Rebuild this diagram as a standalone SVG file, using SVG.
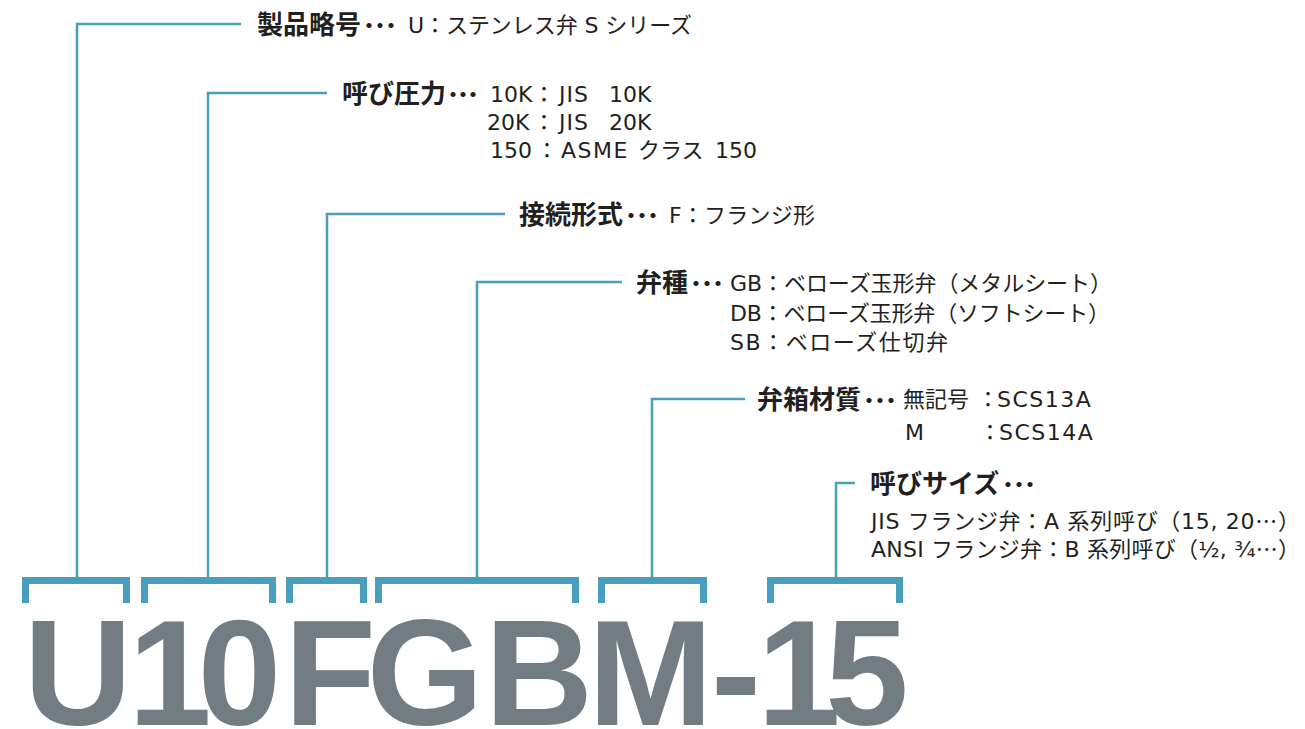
<svg xmlns="http://www.w3.org/2000/svg" width="1305" height="729" viewBox="0 0 1305 729">
<style>
.lbl{font-family:"Noto Sans CJK JP","Noto Sans CJK SC",sans-serif;font-weight:bold;font-size:26px;fill:#231f20}
.dot{font-weight:normal;font-size:24px}
.val{font-family:"DejaVu Sans","Noto Sans CJK JP",sans-serif;font-size:22px;fill:#231f20}
.cjk{font-family:"Noto Sans CJK JP",sans-serif}
.conn{fill:none;stroke:#4a9ebd;stroke-width:2.5}
.brk{fill:none;stroke:#4a9ebd;stroke-width:7;stroke-linejoin:miter}
.code{font-family:"Liberation Sans",Arial,sans-serif;font-weight:bold;font-size:150px;fill:#727c83;text-anchor:middle}
</style>
<rect width="1305" height="729" fill="#ffffff"/>
<g id="connectors">
<path class="conn" d="M77,577 V24 H241"/>
<path class="conn" d="M208,577 V93 H327"/>
<path class="conn" d="M327,577 V214 H505"/>
<path class="conn" d="M477,577 V282 H622"/>
<path class="conn" d="M652,577 V399 H745"/>
<path class="conn" d="M836,577 V483 H855"/>
</g>
<g id="brackets">
<polyline class="brk" points="25.5,603 25.5,580.5 126.5,580.5 126.5,603"/>
<polyline class="brk" points="144.5,603 144.5,580.5 272.5,580.5 272.5,603"/>
<polyline class="brk" points="289.5,603 289.5,580.5 363.5,580.5 363.5,603"/>
<polyline class="brk" points="378.5,603 378.5,580.5 575.5,580.5 575.5,603"/>
<polyline class="brk" points="601.5,603 601.5,580.5 703.5,580.5 703.5,603"/>
<polyline class="brk" points="770.5,603 770.5,580.5 899.5,580.5 899.5,603"/>
</g>
<g id="model-code">
<text class="code" y="725"><tspan x="78">U</tspan><tspan x="170">1</tspan><tspan x="239.5">0</tspan><tspan x="330">F</tspan><tspan x="425">G</tspan><tspan x="539">B</tspan><tspan x="650.5">M</tspan><tspan x="736">-</tspan><tspan x="799">1</tspan><tspan x="867">5</tspan></text>
</g>
<g id="node-product">
<text class="lbl" x="257" y="34">製品略号<tspan class="dot" x="357 368 379">・・・</tspan></text>
<text class="val" x="408" y="33" textLength="284" lengthAdjust="spacing">U：ステンレス弁 S シリーズ</text>
</g>
<g id="node-pressure">
<text class="lbl" x="342" y="103">呼び圧力<tspan class="dot" x="441 451 461">・・・</tspan></text>
<text class="val" x="490" y="102">10K<tspan x="533">：</tspan><tspan x="559" letter-spacing="1">JIS</tspan> <tspan x="609">10K</tspan></text>
<text class="val" x="487" y="130">20K<tspan x="533">：</tspan><tspan x="559" letter-spacing="1">JIS</tspan> <tspan x="609">20K</tspan></text>
<text class="val" x="490" y="158">150<tspan x="536">：</tspan><tspan x="561" letter-spacing="1.5">ASME</tspan> <tspan x="638">クラス</tspan> <tspan x="715">150</tspan></text>
</g>
<g id="node-connection">
<text class="lbl" x="519" y="224">接続形式<tspan class="dot" x="619 630 641">・・・</tspan></text>
<text class="val" x="669" y="223" textLength="146" lengthAdjust="spacing">F：フランジ形</text>
</g>
<g id="node-valve-type">
<text class="lbl" x="636" y="292">弁種<tspan class="dot" x="684 695 706">・・・</tspan></text>
<text class="val" x="730" y="291" textLength="382" lengthAdjust="spacing">GB：ベローズ玉形弁（メタルシート）</text>
<text class="val" x="730" y="321" textLength="380" lengthAdjust="spacing">DB：ベローズ玉形弁（ソフトシート）</text>
<text class="val" x="730" y="350" textLength="218" lengthAdjust="spacing">SB：ベローズ仕切弁</text>
</g>
<g id="node-body-material">
<text class="lbl" x="757" y="409">弁箱材質<tspan class="dot" x="857 868 879">・・・</tspan></text>
<text class="val" x="903" y="407">無記号<tspan x="977">：</tspan><tspan x="997" letter-spacing="1.5">SCS13A</tspan></text>
<text class="val" x="905" y="440">M<tspan x="979">：</tspan><tspan x="999" letter-spacing="1.5">SCS14A</tspan></text>
</g>
<g id="node-size">
<text class="lbl" x="870" y="493">呼びサイズ<tspan class="dot" x="996 1007 1018">・・・</tspan></text>
<text class="val" x="871" y="529" textLength="429" lengthAdjust="spacing">JIS フランジ弁：A 系列呼び（15, 20<tspan class="cjk">…</tspan>）</text>
<text class="val" x="871" y="557" textLength="429" lengthAdjust="spacing">ANSI フランジ弁：B 系列呼び（½, ¾<tspan class="cjk">…</tspan>）</text>
</g>
</svg>
